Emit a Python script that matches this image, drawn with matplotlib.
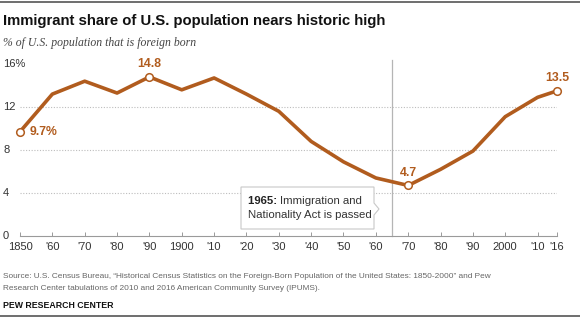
import matplotlib
matplotlib.use("Agg")
import matplotlib.pyplot as plt
import matplotlib.transforms as mtransforms
from matplotlib.patches import Polygon

years = [1850, 1860, 1870, 1880, 1890, 1900, 1910, 1920, 1930,
         1940, 1950, 1960, 1970, 1980, 1990, 2000, 2010, 2016]
share = [9.7, 13.2, 14.4, 13.3, 14.8, 13.6, 14.7, 13.2, 11.6,
         8.8, 6.9, 5.4, 4.7, 6.2, 7.9, 11.1, 12.9, 13.5]
tick_years = [1850, 1860, 1870, 1880, 1890, 1900, 1910, 1920, 1930,
              1940, 1950, 1960, 1970, 1980, 1990, 2000, 2010, 2016]
tick_labels = ["1850", "'60", "'70", "'80", "'90", "1900", "'10", "'20", "'30",
               "'40", "'50", "'60", "'70", "'80", "'90", "2000", "'10", "'16"]
y_ticks = [0, 4, 8, 12, 16]
y_labels = ["0", "4", "8", "12", "16%"]
marked = {1850: "9.7%", 1890: "14.8", 1970: "4.7", 2016: "13.5"}
act_year = 1965

LINE = "#b15c1e"
W, H = 580, 322
FONT = "Liberation Sans"

fig = plt.figure(figsize=(W / 100, H / 100), dpi=100)
ax = fig.add_axes([20 / W, (H - 236) / H, 537 / W, 172 / H])

ax.plot(years, share, color=LINE, lw=2.6, solid_joinstyle="round",
        solid_capstyle="round", clip_on=False, zorder=3)
mx = [y for y in years if y in marked]
my = [share[years.index(y)] for y in mx]
ax.scatter(mx, my, s=30, facecolor="white", edgecolor=LINE, lw=1.1,
           zorder=4, clip_on=False)

for yr, lab in marked.items():
    v = share[years.index(yr)]
    if yr == 1850:
        ax.annotate(lab, (yr, v), xytext=(7, 0), textcoords="offset points",
                    ha="left", va="center", color=LINE, fontsize=8.8,
                    fontweight="bold", family=FONT)
    else:
        ax.annotate(lab, (yr, v), xytext=(0, 5), textcoords="offset points",
                    ha="center", va="bottom", color=LINE, fontsize=8.8,
                    fontweight="bold", family=FONT)

ax.set_xlim(1850, 2016)
ax.set_ylim(0, 16)
for g in y_ticks[1:4]:
    ax.axhline(g, color="#bdbdbd", lw=0.8, ls=(0, (1, 1.5)), zorder=1)
ax.axvline(act_year, ymin=0, ymax=1.025, color="#b5b5b5", lw=0.9, zorder=2,
           clip_on=False)

for s in ["top", "right", "left"]:
    ax.spines[s].set_visible(False)
ax.spines["bottom"].set_color("#9a9a9a")
ax.spines["bottom"].set_linewidth(0.8)
ax.set_yticks([])
ax.set_xticks(tick_years)
ax.set_xticklabels(tick_labels, family=FONT, fontsize=8, color="#333333")
ax.tick_params(axis="x", direction="in", length=3, color="#9a9a9a",
               width=0.7, pad=4)

yl = mtransforms.blended_transform_factory(fig.transFigure, ax.transData)
for v, lab in zip(y_ticks, y_labels):
    fig.text(3 / W, v, lab, transform=yl, ha="left", va="center",
             fontsize=8, color="#333333", family=FONT)

# callout box with a pointer toward the 1965 line
bx0, bx1, by0, by1 = 241, 374, 187, 229
tip = 379
pts = [(bx0, by0), (bx1, by0), (bx1, 203), (tip, 209), (bx1, 215),
       (bx1, by1), (bx0, by1)]
pts = [(x / W, 1 - y / H) for x, y in pts]
fig.patches.append(Polygon(pts, closed=True, transform=fig.transFigure,
                           facecolor="white", edgecolor="#c8c8c8", lw=0.8,
                           zorder=5))
bold = fig.text(248 / W, 1 - 201 / H, "1965: ", fontsize=8.2, fontweight="bold",
                family=FONT, color="#222222", va="center", zorder=6)
fig.canvas.draw()
bb = bold.get_window_extent(fig.canvas.get_renderer())
fig.text(bb.x1 / W, 1 - 201 / H, "Immigration and", fontsize=8.2,
         family=FONT, color="#333333", va="center", zorder=6)
fig.text(248 / W, 1 - 215 / H, "Nationality Act is passed", fontsize=8.2,
         family=FONT, color="#333333", va="center", zorder=6)

fig.text(3 / W, 1 - 21 / H, "Immigrant share of U.S. population nears historic high",
         fontsize=10.7, fontweight="bold", family=FONT, color="#111111",
         va="center")
fig.text(3 / W, 1 - 43 / H, "% of U.S. population that is foreign born",
         fontsize=8.5, style="italic", family="Liberation Serif", color="#444444",
         va="center")
fig.text(3 / W, 1 - 276 / H,
         "Source: U.S. Census Bureau, \u201cHistorical Census Statistics on the "
         "Foreign-Born Population of the United States: 1850-2000\u201d and Pew",
         fontsize=5.95, family=FONT, color="#666666", va="center")
fig.text(3 / W, 1 - 288 / H,
         "Research Center tabulations of 2010 and 2016 American Community Survey (IPUMS).",
         fontsize=5.95, family=FONT, color="#666666", va="center")
fig.text(3 / W, 1 - 305 / H, "PEW RESEARCH CENTER", fontsize=6.3,
         fontweight="bold", family=FONT, color="#111111", va="center")

fig.add_artist(plt.Line2D([0, 1], [1 - 2 / H, 1 - 2 / H], color="#555555",
                          lw=1.2, transform=fig.transFigure))
fig.add_artist(plt.Line2D([0, 1], [1 - 316 / H, 1 - 316 / H], color="#555555",
                          lw=1.2, transform=fig.transFigure))

fig.savefig("out.png", dpi=100)
